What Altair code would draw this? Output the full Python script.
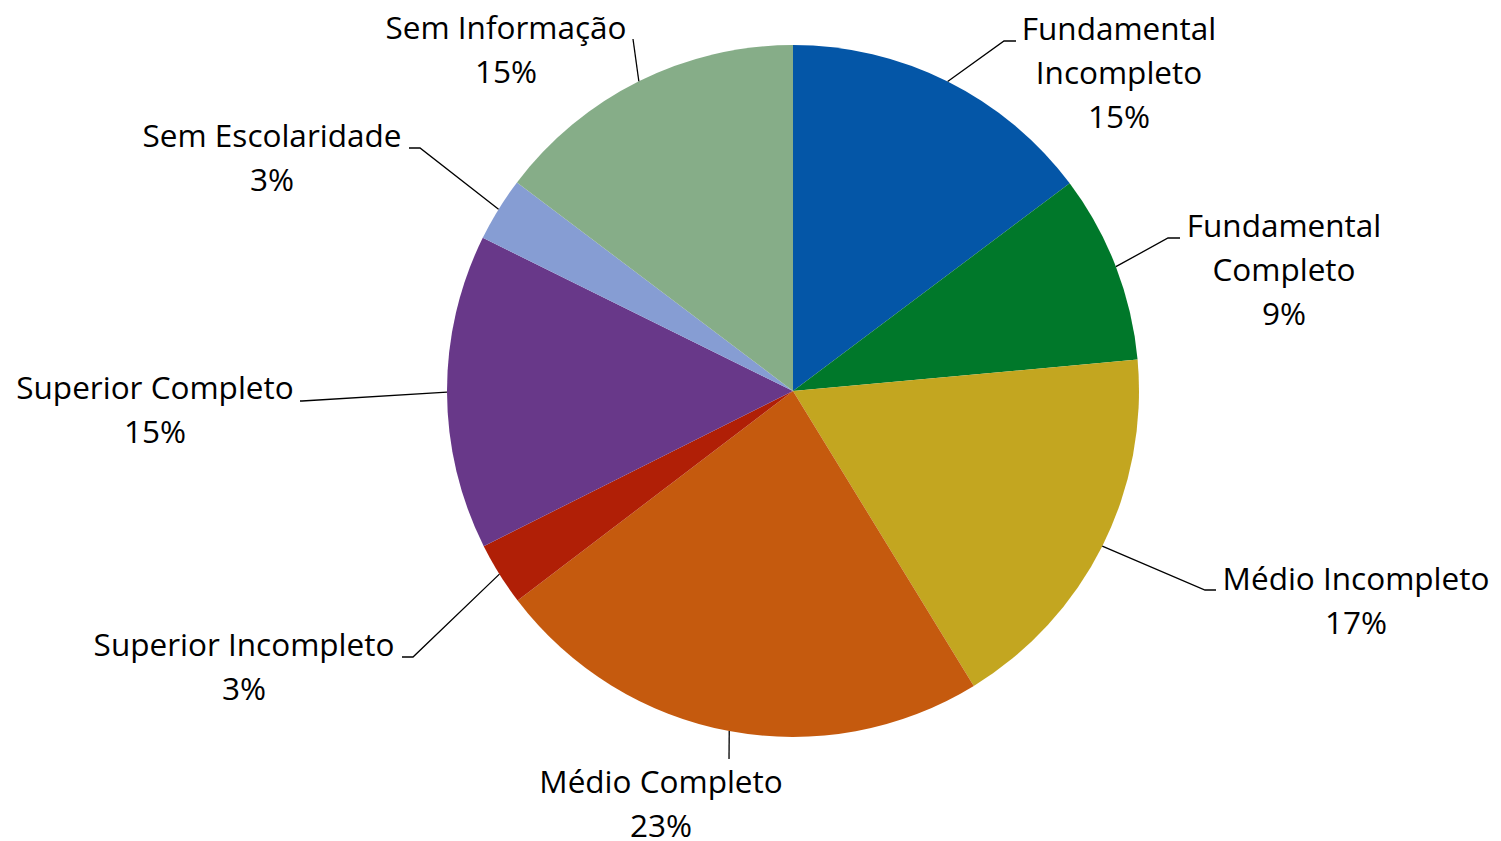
import math
import altair as alt
import pandas as pd

# ---------------- data ----------------
categories = [
    "Fundamental Incompleto", "Fundamental Completo", "Médio Incompleto",
    "Médio Completo", "Superior Incompleto", "Superior Completo",
    "Sem Escolaridade", "Sem Informação",
]
values = [14.75, 8.8, 17.7, 23.4, 2.95, 14.7, 3.0, 14.7]
pct_labels = ["15%", "9%", "17%", "23%", "3%", "15%", "3%", "15%"]
label_lines = [
    ["Fundamental", "Incompleto"], ["Fundamental", "Completo"],
    ["Médio Incompleto"], ["Médio Completo"], ["Superior Incompleto"],
    ["Superior Completo"], ["Sem Escolaridade"], ["Sem Informação"],
]
colors = ["#0456A7", "#00782A", "#C3A620", "#C55A0E",
          "#B01F06", "#683889", "#869DD3", "#86AD88"]

# ---------------- layout ----------------
W, H = 1485, 833
CX, CY = 785, 383          # pie centre inside the chart (px)
R = 346                    # pie radius
FONT, FS, LH = "Open Sans", 31.5, 44

# label placement relative to pie centre (px, y downwards):
# text centre x, first baseline y, leader elbow, leader end
layout = {
    "Fundamental Incompleto": dict(tx=326, ty=-351, elbow=(211, -350), end=(223, -350)),
    "Fundamental Completo":   dict(tx=491, ty=-154, elbow=(375, -153), end=(387, -153)),
    "Médio Incompleto":       dict(tx=563, ty=199, elbow=(412, 199), end=(423, 199)),
    "Médio Completo":         dict(tx=-132, ty=402, elbow=(-64, 368), end=(-64, 368)),
    "Superior Incompleto":    dict(tx=-549, ty=265, elbow=(-380, 266), end=(-391, 266)),
    "Superior Completo":      dict(tx=-638, ty=8, elbow=(-491, 10), end=(-493, 10)),
    "Sem Escolaridade":       dict(tx=-521, ty=-244, elbow=(-373, -243), end=(-384, -243)),
    "Sem Informação":         dict(tx=-287, ty=-352, elbow=(-160, -352), end=(-160, -352)),
}

pie_df = pd.DataFrame({"cat": categories, "value": values, "idx": range(len(categories))})

total = sum(values)
text_rows, line_rows = [], []
cum = 0.0
for i, (c, v) in enumerate(zip(categories, values)):
    mid = (cum + v / 2) / total * 2 * math.pi
    cum += v
    L = layout[c]
    sx, sy = R * math.sin(mid), -R * math.cos(mid)
    for k, (px, py) in enumerate([(sx, sy), L["elbow"], L["end"]]):
        line_rows.append({"cat": c, "k": k, "x": px, "y": py})
    for j, t in enumerate(label_lines[i] + [pct_labels[i]]):
        text_rows.append({"cat": c, "text": t, "x": L["tx"], "y": L["ty"] + j * LH})

text_df = pd.DataFrame(text_rows)
line_df = pd.DataFrame(line_rows)

xs = alt.Scale(domain=[-CX, W - CX], nice=False, zero=False)
ys = alt.Scale(domain=[-CY, H - CY], nice=False, zero=False, reverse=True)

pie = alt.Chart(pie_df).mark_arc(outerRadius=R, stroke=None).encode(
    theta=alt.Theta("value:Q", stack=True),
    order=alt.Order("idx:Q"),
    color=alt.Color("cat:N", scale=alt.Scale(domain=categories, range=colors), legend=None),
    x=alt.X(datum=0, type="quantitative", scale=xs, axis=None),
    y=alt.Y(datum=0, type="quantitative", scale=ys, axis=None),
)

leaders = alt.Chart(line_df).mark_line(color="black", strokeWidth=1.3).encode(
    x=alt.X("x:Q", scale=xs, axis=None),
    y=alt.Y("y:Q", scale=ys, axis=None),
    detail="cat:N",
    order="k:Q",
)

labels = alt.Chart(text_df).mark_text(
    font=FONT, fontSize=FS, align="center", baseline="alphabetic", color="#000000"
).encode(
    x=alt.X("x:Q", scale=xs, axis=None),
    y=alt.Y("y:Q", scale=ys, axis=None),
    text="text:N",
)

chart = alt.layer(pie, leaders, labels).properties(
    width=W, height=H, padding=0, autosize=alt.AutoSizeParams(type="none"),
    background="white",
).configure_view(stroke=None)

chart.save("out.html", embed_options={"renderer": "svg", "actions": False})
